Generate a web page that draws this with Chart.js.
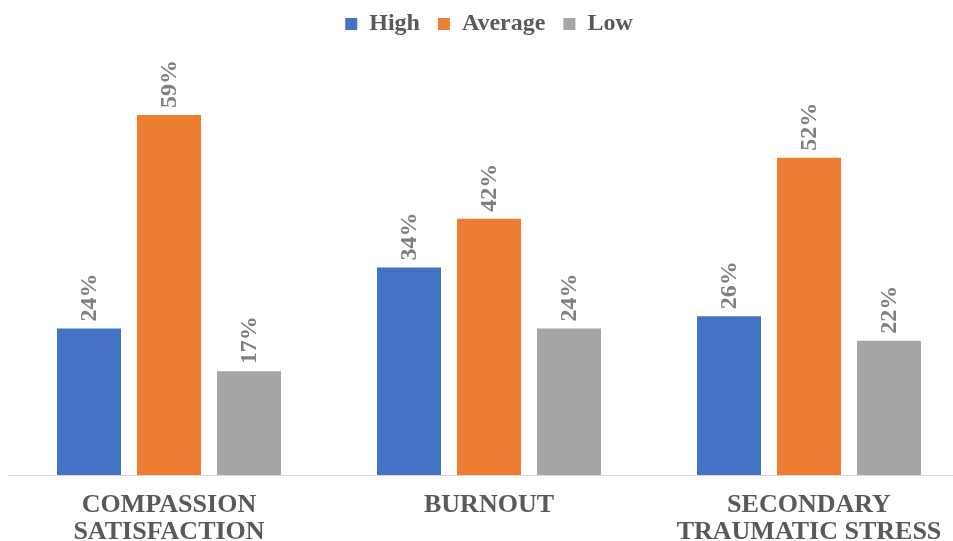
<!DOCTYPE html>
<html>
<head>
<meta charset="utf-8">
<script src="https://cdn.jsdelivr.net/npm/chart.js@4"></script>
<style>
  html, body { margin: 0; padding: 0; background: #ffffff; overflow: hidden; }
  #wrap { position: relative; width: 969px; height: 541px; }
</style>
</head>
<body>
<div id="wrap"><canvas id="chart"></canvas></div>
<script>
// Professional quality of life scores by level
const categories = [
  ['COMPASSION', 'SATISFACTION'],
  'BURNOUT',
  ['SECONDARY', 'TRAUMATIC STRESS']
];
const seriesNames = ['High', 'Average', 'Low'];
const highValues = [24, 34, 26];
const averageValues = [59, 42, 52];
const lowValues = [17, 24, 22];

const colors = ['#4472C4', '#ED7D31', '#A5A5A5'];
const serif = '"Liberation Serif", "Times New Roman", serif';

// Rotated percentage labels above each bar
const barValueLabels = {
  id: 'barValueLabels',
  afterDatasetsDraw(chart) {
    const ctx = chart.ctx;
    ctx.save();
    ctx.font = 'bold 24px ' + serif;
    ctx.fillStyle = '#7F7F7F';
    ctx.textAlign = 'left';
    ctx.textBaseline = 'middle';
    chart.data.datasets.forEach((ds, di) => {
      const meta = chart.getDatasetMeta(di);
      meta.data.forEach((bar, i) => {
        ctx.save();
        ctx.translate(bar.x + 1, bar.y - 7);
        ctx.rotate(-Math.PI / 2);
        ctx.fillText(ds.data[i] + '%', 0, 0);
        ctx.restore();
      });
    });
    ctx.restore();
  }
};

new Chart(document.getElementById('chart'), {
  type: 'bar',
  data: {
    labels: categories,
    datasets: [
      { label: seriesNames[0], data: highValues, backgroundColor: colors[0] },
      { label: seriesNames[1], data: averageValues, backgroundColor: colors[1] },
      { label: seriesNames[2], data: lowValues, backgroundColor: colors[2] }
    ]
  },
  options: {
    responsive: true,
    maintainAspectRatio: false,
    animation: false,
    layout: { padding: { left: 9, right: 0, top: -6, bottom: 0 } },
    datasets: { bar: { categoryPercentage: 0.75, barPercentage: 0.8 } },
    plugins: {
      legend: {
        position: 'top',
        labels: {
          boxWidth: 12,
          boxHeight: 12,
          padding: 18,
          color: '#595959',
          font: { family: serif, size: 24, weight: 'bold' }
        }
      },
      tooltip: { enabled: false }
    },
    scales: {
      x: {
        grid: { display: false, drawTicks: false },
        border: { display: true, color: '#D9D9D9', width: 1 },
        ticks: {
          color: '#595959',
          padding: 17,
          maxRotation: 0,
          autoSkip: false,
          font: { family: serif, size: 26, weight: 'bold', lineHeight: 1.03 }
        },
        afterFit(scale) { scale.height = 66; }
      },
      y: {
        display: false,
        min: 0,
        max: 70.3
      }
    }
  },
  plugins: [barValueLabels]
});
</script>
</body>
</html>
